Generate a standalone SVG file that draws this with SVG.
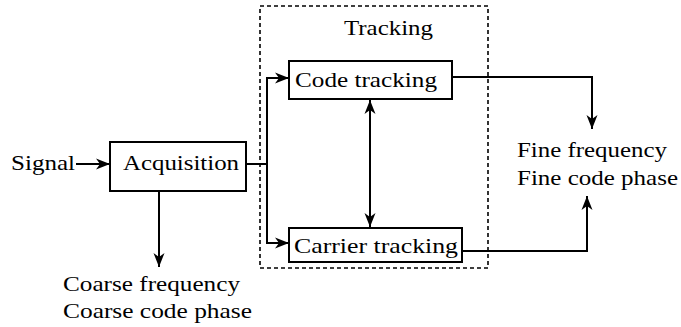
<svg xmlns="http://www.w3.org/2000/svg" width="681" height="327" viewBox="0 0 681 327">
  <defs>
    <marker id="arr" markerUnits="userSpaceOnUse" markerWidth="18" markerHeight="14" viewBox="-16 -7 18 14" refX="0" refY="0" orient="auto-start-reverse">
      <path d="M0,0 L-14,-5.5 L-10,0 L-14,5.5 Z" fill="#000"/>
    </marker>
  </defs>
  <style>
    text { font-family: "Liberation Serif", "DejaVu Serif", serif; font-size: 22px; fill: #000; }
    .box { fill: #fff; stroke: #000; stroke-width: 2; }
    .group { fill: none; stroke: #000; stroke-width: 1.6; stroke-dasharray: 4 3; }
    .wire { fill: none; stroke: #000; stroke-width: 2; }
    .arrow { marker-end: url(#arr); }
  </style>

  <!-- Tracking stage boundary -->
  <g id="tracking">
    <rect class="group" x="260" y="6" width="228" height="262"/>
    <text x="344" y="35" textLength="89" lengthAdjust="spacingAndGlyphs">Tracking</text>
  </g>

  <g id="connectors">
    <!-- input -->
    <line class="wire arrow" x1="76" y1="164" x2="110" y2="164"/>
    <!-- acquisition to both tracking loops -->
    <polyline class="wire" points="246,164 267,164"/>
    <polyline class="wire arrow" points="267,164 267,78 289,78"/>
    <polyline class="wire arrow" points="267,164 267,243 289,243"/>
    <!-- coarse estimates -->
    <line class="wire arrow" x1="159" y1="191" x2="159" y2="267"/>
    <!-- loop coupling -->
    <line class="wire" x1="370" y1="100" x2="370" y2="227" marker-start="url(#arr)" marker-end="url(#arr)"/>
    <!-- fine estimates -->
    <polyline class="wire arrow" points="452,77 592,77 592,129"/>
    <polyline class="wire arrow" points="462,251 587,251 587,196"/>
  </g>

  <g id="signal">
    <text x="11" y="170" textLength="64" lengthAdjust="spacingAndGlyphs">Signal</text>
  </g>

  <g id="acquisition">
    <rect class="box" x="110" y="142" width="136" height="49"/>
    <text x="123" y="170" textLength="116" lengthAdjust="spacingAndGlyphs">Acquisition</text>
  </g>

  <g id="code-tracking">
    <rect class="box" x="289" y="61" width="163" height="38"/>
    <text x="295" y="87" textLength="142" lengthAdjust="spacingAndGlyphs">Code tracking</text>
  </g>

  <g id="carrier-tracking">
    <rect class="box" x="289" y="228" width="173" height="34"/>
    <text x="294" y="253" textLength="164" lengthAdjust="spacingAndGlyphs">Carrier tracking</text>
  </g>

  <g id="fine-output">
    <text x="517" y="157" textLength="150" lengthAdjust="spacingAndGlyphs">Fine frequency</text>
    <text x="517" y="185" textLength="161" lengthAdjust="spacingAndGlyphs">Fine code phase</text>
  </g>

  <g id="coarse-output">
    <text x="63" y="291" textLength="177" lengthAdjust="spacingAndGlyphs">Coarse frequency</text>
    <text x="63" y="318" textLength="189" lengthAdjust="spacingAndGlyphs">Coarse code phase</text>
  </g>
</svg>
